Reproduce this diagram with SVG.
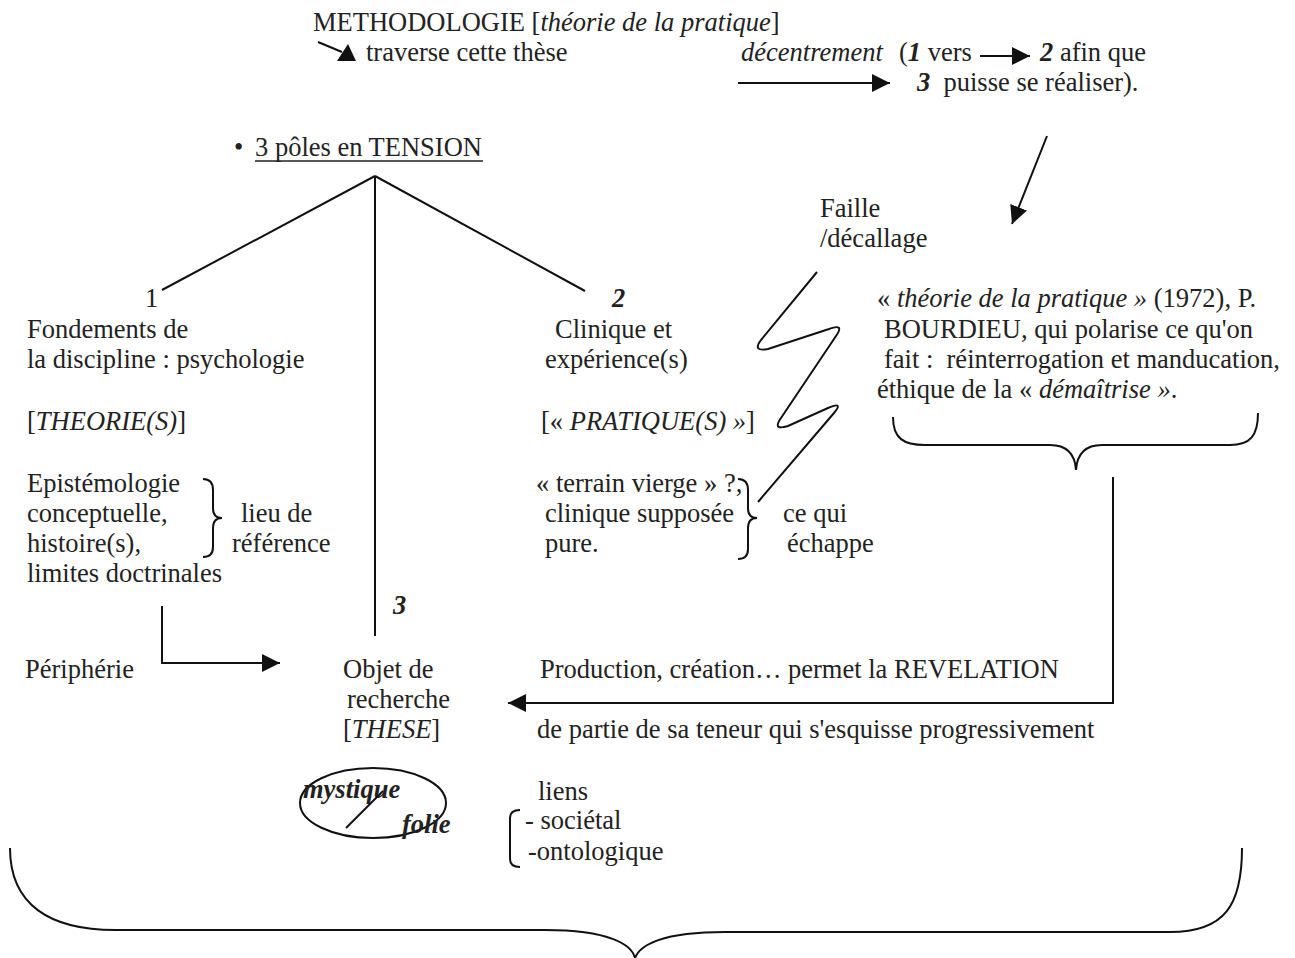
<svg xmlns="http://www.w3.org/2000/svg" width="1295" height="958" viewBox="0 0 1295 958">
  <style>
    text { font-family: "Liberation Serif", "Times New Roman", serif; font-size: 26.5px; fill: #222; }
    .i { font-style: italic; }
    .bi { font-style: italic; font-weight: bold; }
    .ln { fill: none; stroke: #111; stroke-width: 2; }
    .head { fill: #111; }
  </style>
  <defs>
    <marker id="triL" viewBox="0 0 10 10" refX="10" refY="5" markerWidth="18" markerHeight="18" markerUnits="userSpaceOnUse" orient="auto">
      <path d="M0,0 L10,5 L0,10 Z" fill="#111"/>
    </marker>
  </defs>

  <!-- header: methodology -->
  <g id="methodologie">
    <text x="313" y="31">METHODOLOGIE [<tspan class="i">théorie de la pratique</tspan>]</text>
    <text x="366" y="61">traverse cette thèse</text>
  </g>

  <g id="decentrement">
    <text x="741" y="61"><tspan class="i">décentrement</tspan><tspan x="899">(</tspan><tspan class="bi">1</tspan> vers</text>
    <text x="1040" y="61"><tspan class="bi">2</tspan> afin que</text>
    <text x="917" y="91" xml:space="preserve"><tspan class="bi">3</tspan>  puisse se réaliser).</text>
  </g>

  <g id="tension">
    <text x="234" y="156">•</text>
    <text x="255" y="156">3 pôles en TENSION</text>
    <line x1="255" y1="161" x2="483" y2="161" stroke="#222" stroke-width="1.6"/>
  </g>

  <g id="pole1">
    <text x="145" y="307">1</text>
    <text x="27" y="338">Fondements de</text>
    <text x="27" y="368">la discipline : psychologie</text>
    <text x="27" y="430">[<tspan class="i">THEORIE(S)</tspan>]</text>
  </g>

  <g id="epistemologie">
    <text x="27" y="492">Epistémologie</text>
    <text x="27" y="522">conceptuelle,</text>
    <text x="27" y="552">histoire(s),</text>
    <text x="27" y="582">limites doctrinales</text>
    <path class="ln" d="M203,479 Q213,479 213,490 L213,508 Q213,518 222,518 Q213,518 213,528 L213,547 Q213,557 203,557"/>
    <text x="241" y="522">lieu de</text>
    <text x="232" y="552">référence</text>
  </g>

  <g id="pole2">
    <text x="612" y="307" class="bi">2</text>
    <text x="555" y="338">Clinique et</text>
    <text x="545" y="368">expérience(s)</text>
    <text x="541" y="430">[« <tspan class="i">PRATIQUE(S) »</tspan>]</text>
  </g>

  <g id="terrain">
    <text x="536" y="492">« terrain vierge » ?,</text>
    <text x="545" y="522">clinique supposée</text>
    <text x="545" y="552">pure.</text>
    <path class="ln" d="M738,479 Q748,479 748,490 L748,508 Q748,518 757,518 Q748,518 748,528 L748,549 Q748,559 738,559"/>
    <text x="783" y="522">ce qui</text>
    <text x="787" y="552">échappe</text>
  </g>

  <g id="faille">
    <text x="820" y="217">Faille</text>
    <text x="820" y="247">/décallage</text>
    <path class="ln" d="M817,272 L761,340 Q752,352 768,349 L829,329 Q845,323 836,336 L781,418 Q772,431 788,426 L828,408 Q844,401 834,413 L758,502"/>
  </g>

  <g id="bourdieu">
    <text x="877" y="307">« <tspan class="i">théorie de la pratique »</tspan> (1972), P.</text>
    <text x="884" y="338">BOURDIEU, qui polarise ce qu'on</text>
    <text x="884" y="368" xml:space="preserve">fait :  réinterrogation et manducation,</text>
    <text x="877" y="398">éthique de la « <tspan class="i">démaîtrise »</tspan>.</text>
    <path class="ln" d="M893,417 C893,438 903,445 925,445 L1050,445 C1068,445 1075,455 1076,470 C1077,455 1084,445 1102,445 L1230,445 C1250,445 1258,436 1258,413"/>
  </g>

  <g id="pole3">
    <text x="393" y="614" class="bi">3</text>
  </g>

  <g id="peripherie">
    <text x="25" y="678">Périphérie</text>
  </g>

  <g id="objet">
    <text x="343" y="678">Objet de</text>
    <text x="347" y="708">recherche</text>
    <text x="343" y="738">[<tspan class="i">THESE</tspan>]</text>
  </g>

  <g id="revelation">
    <text x="540" y="678">Production, création… permet la REVELATION</text>
    <text x="537" y="738">de partie de sa teneur qui s'esquisse progressivement</text>
  </g>

  <g id="mystique">
    <ellipse cx="373" cy="803" rx="73" ry="35" class="ln"/>
    <text x="303" y="798" class="bi">mystique</text>
    <text x="402" y="833" class="bi">folie</text>
    <line x1="346" y1="828" x2="383" y2="791" class="ln"/>
  </g>

  <g id="liens">
    <text x="538" y="800">liens</text>
    <path class="ln" d="M520,810 Q510,810 510,818 L510,859 Q510,867 520,867"/>
    <text x="525" y="829">- sociétal</text>
    <text x="528" y="860">-ontologique</text>
  </g>

  <!-- large closing brace -->
  <g id="accolade">
    <path class="ln" d="M10,848 C10,905 50,930 115,930 L545,930 C610,930 632,945 635,958 C640,945 662,932 725,932 L1170,932 C1225,932 1242,905 1242,848"/>
  </g>

  <g id="connectors">
    <!-- three poles tree -->
    <line class="ln" x1="375" y1="176" x2="162" y2="290"/>
    <line class="ln" x1="375" y1="176" x2="585" y2="291"/>
    <line class="ln" x1="375" y1="176" x2="375" y2="636"/>
    <!-- small arrow under METHODOLOGIE -->
    <line class="ln" x1="318" y1="42" x2="342" y2="52"/>
    <polygon class="head" points="337,61 356,61 348,44"/>
    <!-- 1 vers 2 -->
    <line class="ln" x1="980" y1="56" x2="1030" y2="56" marker-end="url(#triL)"/>
    <!-- décentrement arrow -->
    <line class="ln" x1="738" y1="83" x2="890" y2="83" marker-end="url(#triL)"/>
    <!-- diagonal arrow to Bourdieu -->
    <line class="ln" x1="1047" y1="136" x2="1012" y2="224" marker-end="url(#triL)"/>
    <!-- périphérie to objet -->
    <polyline class="ln" points="162,606 162,663 280,663" marker-end="url(#triL)"/>
    <!-- return to objet de recherche -->
    <polyline class="ln" points="1113,477 1113,703 508,703" marker-end="url(#triL)"/>
  </g>
</svg>
